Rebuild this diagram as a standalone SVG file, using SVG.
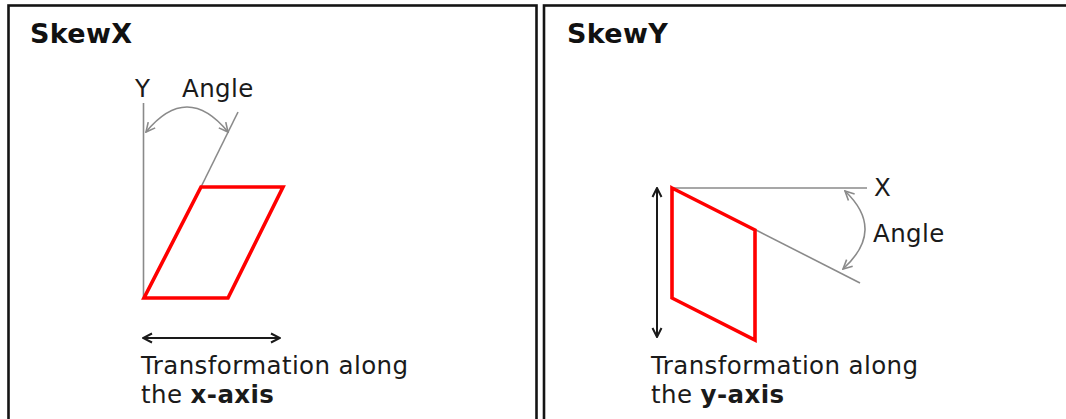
<svg xmlns="http://www.w3.org/2000/svg" width="1066" height="419" viewBox="0 0 1066 419">
  <defs>
    <style>
      .panel { fill: #ffffff; stroke: #141414; stroke-width: 2.6; }
      .title { font-family: "DejaVu Sans", Verdana, sans-serif; font-weight: bold; font-size: 27px; fill: #111; letter-spacing: 0.3px; }
      .lbl { font-family: "DejaVu Sans", Verdana, sans-serif; font-size: 24.5px; fill: #1a1a1a; letter-spacing: 0.4px; }
      .b { font-weight: bold; }
      .axis { fill: none; stroke: #8a8a8a; stroke-width: 1.6; }
      .arc { fill: none; stroke: #8a8a8a; stroke-width: 1.6; marker-start: url(#arrGray); marker-end: url(#arrGray); }
      .shape { fill: none; stroke: #ff0000; stroke-width: 3.6; stroke-linejoin: miter; }
      .dim { fill: none; stroke: #1a1a1a; stroke-width: 2; marker-start: url(#arrBlack); marker-end: url(#arrBlack); }
    </style>
    <marker id="arrBlack" viewBox="0 0 12 12" refX="11" refY="6" markerWidth="12" markerHeight="12" markerUnits="userSpaceOnUse" orient="auto-start-reverse">
      <path d="M2,1.5 L11,6 L2,10.5" fill="none" stroke="#1a1a1a" stroke-width="2"/>
    </marker>
    <marker id="arrGray" viewBox="0 0 12 12" refX="11" refY="6" markerWidth="12" markerHeight="12" markerUnits="userSpaceOnUse" orient="auto-start-reverse">
      <path d="M2,1.5 L11,6 L2,10.5" fill="none" stroke="#8a8a8a" stroke-width="1.6"/>
    </marker>
  </defs>

  <rect width="1066" height="419" fill="#ffffff"/>

  <g id="panel-skewx">
    <rect class="panel" x="8.5" y="5.5" width="528" height="500"/>
    <text class="title" x="30" y="43">SkewX</text>
  </g>
  <g id="panel-skewy">
    <rect class="panel" x="544" y="5.5" width="600" height="500"/>
    <text class="title" x="567" y="43">SkewY</text>
  </g>

  <g id="skewx-figure">
    <line class="axis" x1="143.5" y1="103" x2="143.5" y2="298" stroke-width="2"/>
    <line class="axis" x1="201" y1="187" x2="238" y2="112"/>
    <text class="lbl" x="135" y="97">Y</text>
    <text class="lbl" x="182" y="97">Angle</text>
    <polygon class="shape" points="201,187 283,187 228,298 144,298"/>
    <text class="lbl" x="141" y="374">Transformation along</text>
    <text class="lbl" x="141" y="403">the <tspan class="b">x-axis</tspan></text>
  </g>

  <g id="skewy-figure">
    <line class="axis" x1="672" y1="188" x2="867" y2="188"/>
    <line class="axis" x1="755" y1="229.5" x2="860" y2="283"/>
    <text class="lbl" x="874" y="196">X</text>
    <text class="lbl" x="873" y="242">Angle</text>
    <polygon class="shape" points="672,188 755,230 755,340 672,298"/>
    <text class="lbl" x="651" y="374">Transformation along</text>
    <text class="lbl" x="651" y="403">the <tspan class="b">y-axis</tspan></text>
  </g>

  <g id="connectors">
    <path class="arc" d="M146,132 Q187,82 228,132"/>
    <path class="arc" d="M845,191 Q886,230 843,269"/>
    <line class="dim" x1="143" y1="338" x2="280" y2="338"/>
    <line class="dim" x1="657" y1="188" x2="657" y2="337"/>
  </g>
</svg>
